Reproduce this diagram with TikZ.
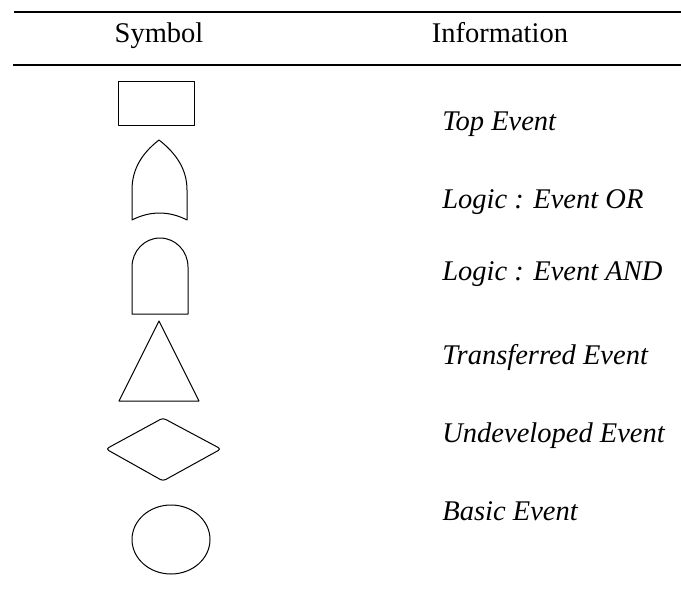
\documentclass[tikz,border=0pt]{standalone}
\usepackage{fontspec}
\setmainfont{Liberation Serif}
\usetikzlibrary{positioning}

\begin{document}
\begin{tikzpicture}[x=0.5pt,y=-0.5pt,
  every node/.style={inner sep=0pt, font=\fontsize{14.25}{17}\selectfont},
  info/.style={anchor=base west, font=\fontsize{14.25}{17}\selectfont\itshape},
  rule/.style={line width=0.8pt},
  symb/.style={line width=0.5pt, line join=round}]
  \useasboundingbox (0,0) rectangle (681,589);

  \draw[rule] (14,12) -- (681,12);
  \draw[rule] (13,65) -- (681,65);
  \node (symbol) [anchor=base] at (159,42) {Symbol};
  \node (information) [anchor=base] at (500,42) {Information};

  \node (top) [info] at (442,130) {Top Event};
  \node (or) [info] at (442,208) {Logic : Event OR};
  \node (and) [info] at (442,280) {Logic : Event AND};
  \node (transfer) [info] at (442,364) {Transferred Event};
  \node (undev) [info] at (442,442) {Undeveloped Event};
  \node (basic) [info] at (442,520) {Basic Event};

  \draw[symb] (118,81) rectangle (194,125);
  \draw[symb] (159,140) .. controls (141,154) and (132,170) .. (132,190)
    -- (132,220) .. controls (150,210.7) and (169,210.7) .. (187,220)
    -- (187,190) .. controls (187,170) and (177,154) .. (159,140);
  \draw[symb] (132,314) -- (132,267) .. controls (132,251) and (144.5,238) .. (160,238)
    .. controls (175.5,238) and (188,251) .. (188,267) -- (188,314) -- cycle;
  \draw[symb] (159,321) -- (199,401) -- (119,401) -- cycle;
  \draw[symb, rounded corners=1.5pt] (163,418) -- (221,449) -- (163,481) -- (106,449) -- cycle;
  \draw[symb] (171,539.5) ellipse [x radius=19.5pt, y radius=17.25pt];
\end{tikzpicture}
\end{document}
